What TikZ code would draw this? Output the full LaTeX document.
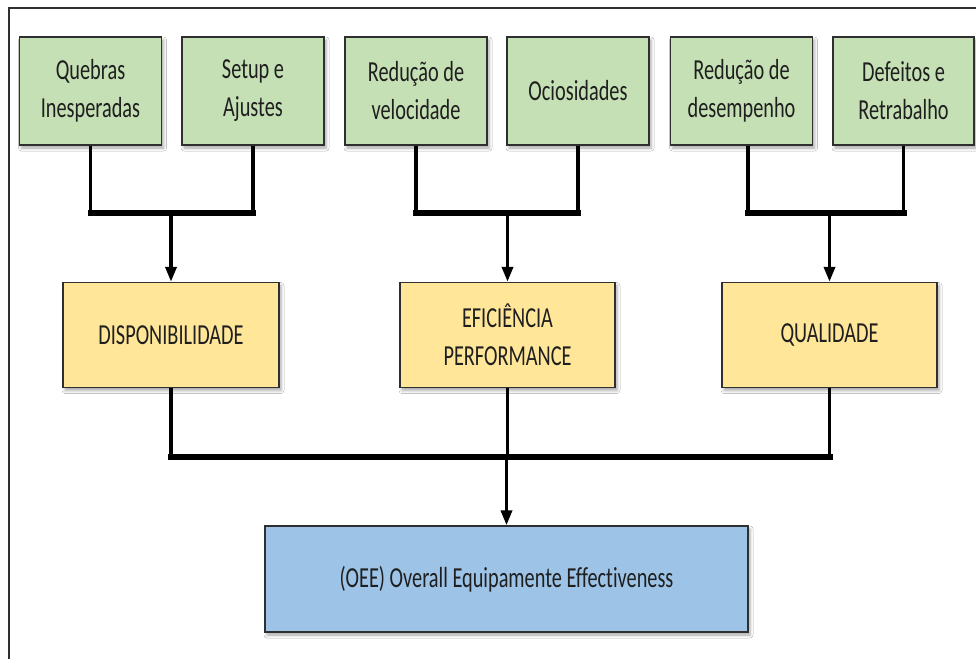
\documentclass[tikz,border=0pt]{standalone}
\usepackage{fontspec}
\setmainfont{Carlito}[FakeStretch=0.7, Ligatures=NoCommon]
\usetikzlibrary{arrows.meta,shadows.blur,calc}
\definecolor{boxgreen}{HTML}{C5E0B4}
\definecolor{boxyellow}{HTML}{FFE699}
\definecolor{boxblue}{HTML}{9DC3E6}
\definecolor{edge}{HTML}{2F2F2F}
\definecolor{ink}{HTML}{1F1F1F}
\begin{document}
\begin{tikzpicture}[x=1pt,y=-1pt,
  box/.style={draw=edge, line width=1.4pt, align=center, text=ink, inner sep=0pt,
    font=\fontsize{29}{38}\selectfont,
    blur shadow={shadow xshift=2pt, shadow yshift=-3pt, shadow blur radius=3pt, shadow opacity=35}},
  cause/.style={box, fill=boxgreen, minimum width=142pt, minimum height=108pt},
  factor/.style={box, fill=boxyellow, minimum width=216pt, minimum height=105pt},
  result/.style={box, fill=boxblue, minimum width=483pt, minimum height=106pt},
  stem/.style={line width=3.5pt, draw=black},
  bar/.style={line width=6pt, draw=black, line cap=rect},
  feed/.style={stem, -{Triangle[length=15pt,width=11pt]}},
  frame/.style={line width=2.2pt, draw=edge}]
\useasboundingbox (0,0) rectangle (976,658);
\fill[white] (0,0) rectangle (976,658);

% outer frame (left and top edges)
\draw[frame] (9,662) -- (9,8) -- (980,8);

% loss causes
\node[cause] (g1) at (90.5,91)  {Quebras\\Inesperadas};
\node[cause] (g2) at (253,91)   {Setup e\\Ajustes};
\node[cause] (g3) at (416,91)   {Redução de\\velocidade};
\node[cause] (g4) at (578,91)   {Ociosidades};
\node[cause] (g5) at (741.5,91) {Redução de\\desempenho};
\node[cause, minimum width=141pt] (g6) at (903.5,91) {Defeitos e\\Retrabalho};

% OEE factors
\node[factor] (disp) at (171,335)   {DISPONIBILIDADE};
\node[factor, minimum width=215pt] (efic) at (507.5,335) {EFICIÊNCIA\\PERFORMANCE};
\node[factor, minimum width=215pt] (qual) at (829.5,335) {QUALIDADE};

% result
\node[result] (oee) at (506.5,579) {(OEE) Overall Equipamente Effectiveness};

% junction points
\coordinate (j1) at (171,213);
\coordinate (j2) at (507.5,213);
\coordinate (j3) at (829.5,213);
\coordinate (jb) at (506.5,457);
\coordinate (g5s) at ($(g5.south)+(6.5,0)$);

% group 1
\draw[stem] (g1.south) -- (g1.south |- j1);
\draw[stem] (g2.south) -- (g2.south |- j1);
\draw[bar] (g1.south |- j1) -- (g2.south |- j1);
\draw[feed] (j1) -- (disp.north);

% group 2
\draw[stem] (g3.south) -- (g3.south |- j2);
\draw[stem] (g4.south) -- (g4.south |- j2);
\draw[bar] (g3.south |- j2) -- (g4.south |- j2);
\draw[feed] (j2) -- (efic.north);

% group 3
\draw[stem] (g5s) -- (g5s |- j3);
\draw[stem] (g6.south) -- (g6.south |- j3);
\draw[bar] (g5s |- j3) -- (g6.south |- j3);
\draw[feed] (j3) -- (qual.north);

% factors into OEE
\draw[stem] (disp.south) -- (disp.south |- jb);
\draw[stem] (qual.south) -- (qual.south |- jb);
\draw[stem] (efic.south) -- (efic.south |- jb);
\draw[bar] (disp.south |- jb) -- (qual.south |- jb);
\draw[feed] (jb) -- (oee.north);
\end{tikzpicture}
\end{document}
